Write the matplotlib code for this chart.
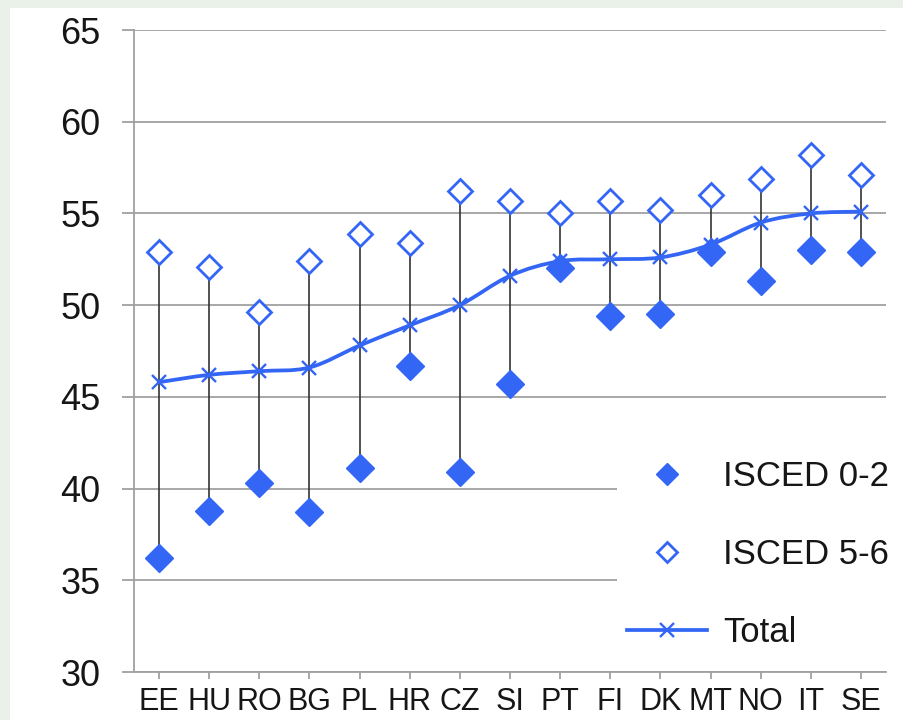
import numpy as np
import matplotlib.pyplot as plt
from matplotlib.path import Path
from matplotlib.patches import PathPatch, Rectangle
from matplotlib.lines import Line2D

plt.rcParams['font.family'] = ['Liberation Sans', 'DejaVu Sans']

# Datos
paises = ['EE', 'HU', 'RO', 'BG', 'PL', 'HR', 'CZ', 'SI', 'PT', 'FI', 'DK', 'MT', 'NO', 'IT', 'SE']
isced_02 = [36.2, 38.8, 40.3, 38.7, 41.1, 46.7, 40.9, 45.7, 52.0, 49.4, 49.5, 52.9, 51.3, 53.0, 52.9]
isced_56 = [52.9, 52.1, 49.6, 52.4, 53.9, 53.4, 56.2, 55.7, 55.0, 55.7, 55.2, 56.0, 56.9, 58.2, 57.1]
total = [45.8, 46.2, 46.4, 46.6, 47.8, 48.9, 50.0, 51.6, 52.4, 52.5, 52.6, 53.3, 54.5, 55.0, 55.1]

azul = '#3366f5'
gris = '#a0a0a0'
texto = '#161616'

fig = plt.figure(figsize=(9.04, 7.2), dpi=100, facecolor='#e9f1e9')
fig.patches.append(Rectangle((10 / 904, 0), 1, 712 / 720, transform=fig.transFigure,
                             facecolor='white', edgecolor='none', zorder=-5))
ax = fig.add_axes([134 / 904, 48 / 720, 752 / 904, 642 / 720])
ax.set_facecolor('white')

x = np.arange(len(paises))

# Lineas verticales entre minimo y maximo
ax.vlines(x, np.minimum(isced_02, isced_56), np.maximum(isced_02, isced_56),
          colors='#333333', lw=1.2, zorder=2)

# Linea suavizada del total (Bezier tipo Catmull-Rom)
pts = np.column_stack([x, total])
verts = [pts[0]]
codes = [Path.MOVETO]
for i in range(len(pts) - 1):
    p0 = pts[i - 1] if i > 0 else pts[i]
    p1 = pts[i]
    p2 = pts[i + 1]
    p3 = pts[i + 2] if i + 2 < len(pts) else pts[i + 1]
    c1 = p1 + (p2 - p0) / 6
    c2 = p2 - (p3 - p1) / 6
    verts += [c1, c2, p2]
    codes += [Path.CURVE4] * 3
ax.add_patch(PathPatch(Path(verts, codes), facecolor='none', edgecolor=azul, lw=2.7, zorder=3))
ax.plot(x, total, linestyle='none', marker='x', ms=10, mew=1.7, color=azul, zorder=4)

ax.plot(x, isced_02, linestyle='none', marker='D', ms=14, color=azul, mec=azul, zorder=5)
ax.plot(x, isced_56, linestyle='none', marker='D', ms=12.5, mfc='white', mec=azul, mew=2, zorder=5)

ax.set_xlim(-0.5, len(paises) - 0.5)
ax.set_ylim(30, 65)
ax.set_yticks(np.arange(30, 66, 5))
ax.set_xticks(x)
ax.set_xticklabels(paises)
ax.yaxis.grid(True, color=gris, lw=1.3)
ax.set_axisbelow(True)

for lado in ['top', 'right']:
    ax.spines[lado].set_visible(False)
for lado in ['left', 'bottom']:
    ax.spines[lado].set_color(gris)
    ax.spines[lado].set_linewidth(1.3)

ax.tick_params(axis='y', length=9, width=1.3, color=gris, pad=15, labelsize=26, labelcolor=texto)
ax.tick_params(axis='x', length=5, width=1.3, color=gris, pad=6, labelsize=22, labelcolor=texto)

handles = [
    Line2D([], [], linestyle='none', marker='D', ms=11.5, color=azul),
    Line2D([], [], linestyle='none', marker='D', ms=10.5, mfc='white', mec=azul, mew=2),
    Line2D([], [], color=azul, lw=2.7, marker='x', ms=10, mew=1.7),
]
leg = ax.legend(handles, ['ISCED 0-2', 'ISCED 5-6', 'Total'], loc='upper left',
                bbox_to_anchor=(0.619, 0.374), fontsize=25, frameon=True, fancybox=False,
                facecolor='white', edgecolor='none', framealpha=1, handlelength=2.3,
                labelspacing=1.3, handletextpad=0.45, borderpad=0.3)
for t in leg.get_texts():
    t.set_color(texto)
leg.set_zorder(6)

fig.savefig('out.png', dpi=100, facecolor=fig.get_facecolor())
